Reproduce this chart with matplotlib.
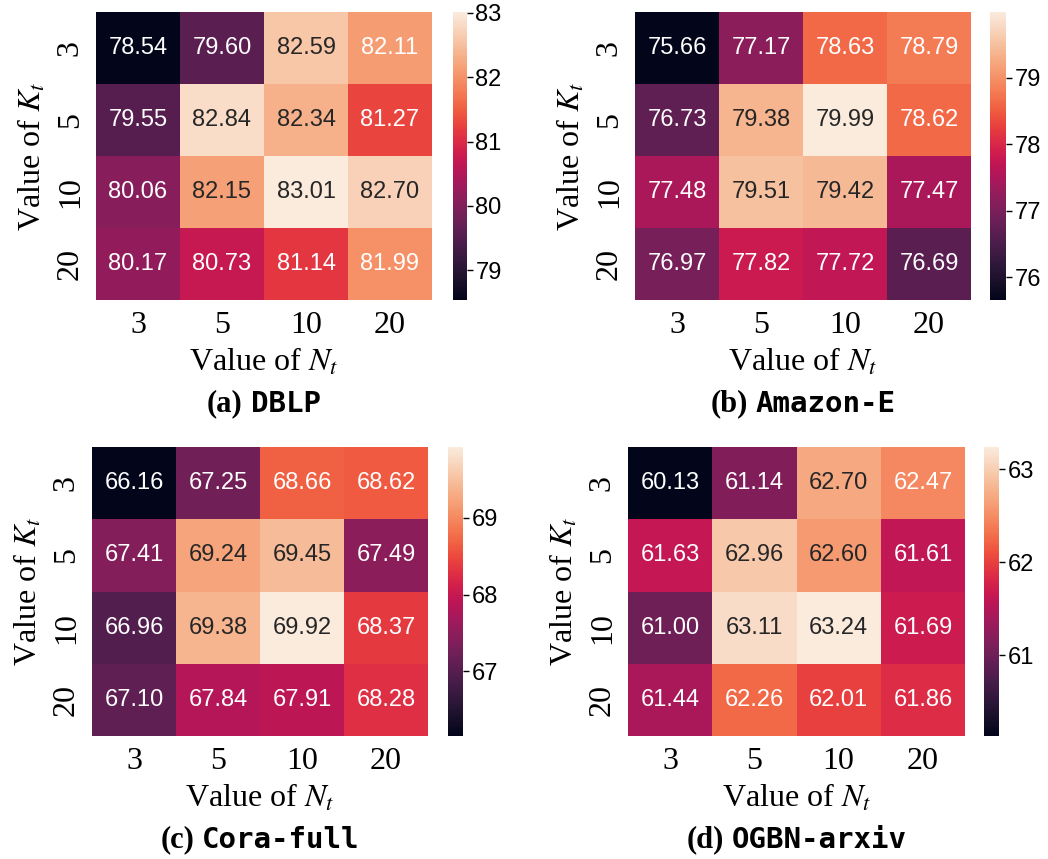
import matplotlib
matplotlib.use("Agg")
import matplotlib.pyplot as plt
import numpy as np
import seaborn as sns
from matplotlib.offsetbox import TextArea, HPacker, AnnotationBbox

plt.rcParams['font.family'] = ['Liberation Serif', 'DejaVu Serif']
plt.rcParams['mathtext.fontset'] = 'stix'

# row = K_t, column = N_t
k_values = ["3", "5", "10", "20"]
n_values = ["3", "5", "10", "20"]

dblp = [[78.54, 79.60, 82.59, 82.11],
        [79.55, 82.84, 82.34, 81.27],
        [80.06, 82.15, 83.01, 82.70],
        [80.17, 80.73, 81.14, 81.99]]

amazon_e = [[75.66, 77.17, 78.63, 78.79],
            [76.73, 79.38, 79.99, 78.62],
            [77.48, 79.51, 79.42, 77.47],
            [76.97, 77.82, 77.72, 76.69]]

cora_full = [[66.16, 67.25, 68.66, 68.62],
             [67.41, 69.24, 69.45, 67.49],
             [66.96, 69.38, 69.92, 68.37],
             [67.10, 67.84, 67.91, 68.28]]

ogbn_arxiv = [[60.13, 61.14, 62.70, 62.47],
              [61.63, 62.96, 62.60, 61.61],
              [61.00, 63.11, 63.24, 61.69],
              [61.44, 62.26, 62.01, 61.86]]

tags = ["(a)", "(b)", "(c)", "(d)"]
names = ["DBLP", "Amazon-E", "Cora-full", "OGBN-arxiv"]
tables = [dblp, amazon_e, cora_full, ogbn_arxiv]
# annotations shown in white in the original even though near the threshold
white_text = [["82.11"], [], [], []]

W, H = 1048, 859
fig = plt.figure(figsize=(W / 100, H / 100), dpi=100)

# pixel boxes: heatmap (x0, x1, y0, y1), colorbar (x0, x1)
boxes = [((96, 432, 12, 300), (453, 467)),
         ((635, 971, 12, 300), (990, 1006)),
         ((92, 428, 447, 736), (448, 463)),
         ((628, 965, 447, 736), (984, 999))]

def px_rect(x0, x1, y0, y1):
    return [x0 / W, 1 - y1 / H, (x1 - x0) / W, (y1 - y0) / H]

for tag, name, tab, wt, (hm, cb) in zip(tags, names, tables, white_text, boxes):
    ax = fig.add_axes(px_rect(*hm))
    cax = fig.add_axes(px_rect(cb[0], cb[1], hm[2], hm[3]))
    sns.heatmap(np.array(tab), ax=ax, cbar_ax=cax, cmap="rocket",
                annot=True, fmt=".2f",
                annot_kws={"fontsize": 17, "family": "Liberation Sans"},
                xticklabels=n_values, yticklabels=k_values)
    for t in ax.texts:
        if t.get_text() in wt:
            t.set_color("w")
    ax.tick_params(length=0, labelsize=23, pad=8)
    ax.set_yticklabels(k_values, rotation=90, va="center")
    ax.set_xticklabels(n_values, rotation=0)
    ax.set_xlabel("Value of $N_t$", fontsize=23, labelpad=5)
    ax.set_ylabel("Value of $K_t$", fontsize=23, labelpad=6)
    cax.tick_params(labelsize=17, length=4, width=1, pad=2)
    for t in cax.get_yticklabels():
        t.set_family("Liberation Sans")

    t1 = TextArea(tag, textprops=dict(fontsize=22, fontweight="bold",
                                      family="Liberation Serif"))
    t2 = TextArea(name, textprops=dict(fontsize=21, fontweight="bold",
                                       family="DejaVu Sans Mono"))
    pack = HPacker(children=[t1, t2], pad=0, sep=6, align="baseline")
    cx = (hm[0] + hm[1]) / 2
    cy = hm[3] + 104
    ab = AnnotationBbox(pack, (cx / W, 1 - cy / H), xycoords="figure fraction",
                        frameon=False, box_alignment=(0.5, 0.5))
    fig.add_artist(ab)

fig.savefig("out.png", dpi=100)
